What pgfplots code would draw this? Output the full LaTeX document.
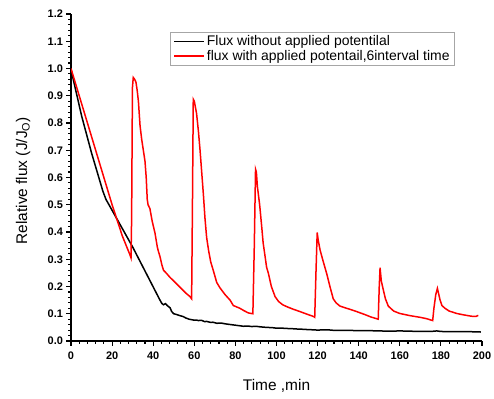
\documentclass[border=0pt]{standalone}
\usepackage{fontspec}
\setmainfont{Liberation Sans}
\usepackage{pgfplots}
\pgfplotsset{compat=1.18}
\begin{document}
\begin{tikzpicture}
\begin{axis}[
  at={(0,0)}, anchor=south west,
  scale only axis, width=411bp, height=327bp,
  xmin=0, xmax=200, ymin=0, ymax=1.2,
  axis x line*=bottom, axis y line*=left,
  xtick={0,20,40,60,80,100,120,140,160,180,200},
  ytick={0,0.1,0.2,0.3,0.4,0.5,0.6,0.7,0.8,0.9,1.0,1.1,1.2},
  minor x tick num=4, minor y tick num=4,
  tick align=outside,
  major tick length=4.5bp, minor tick length=2.5bp,
  axis line style={line width=1.4bp},
  every tick/.style={black, line width=1.1bp},
  /pgf/number format/assume math mode=true,
  tick label style={font=\bfseries\fontsize{11}{13}\selectfont},
  y tick label style={/pgf/number format/.cd, fixed, fixed zerofill, precision=1},
  x tick label style={yshift=-3bp, /pgf/number format/.cd, fixed},
  xlabel={Time ,min},
  ylabel={Relative flux (J/J\textsubscript{O})},
  label style={font=\fontsize{15.5}{18}\selectfont},
  xlabel style={at={(axis description cs:0.5,-0.15)}, anchor=base},
  ylabel style={at={(axis description cs:-0.107,0.49)}, anchor=base},
  legend style={at={(0.241,0.946)}, anchor=north west, draw=gray!70, line width=0.8bp,
     font=\fontsize{14}{16.5}\selectfont, inner xsep=3bp, inner ysep=1.5bp, row sep=-1bp},
  legend cell align=left,
  legend image code/.code={\draw[#1] (0bp,0bp) -- (30bp,0bp);},
]
\addplot[black, line width=1.5bp] coordinates {
(0,0.997) (2,0.93) (5.2,0.825) (10,0.69) (15.5,0.55) (17,0.52) (30,0.345) (43.3,0.15) (44.2,0.138) (45,0.133) (46,0.137) (47,0.129) (48.2,0.122) (49,0.108) (50,0.1) (51.5,0.097) (53,0.093) (54.5,0.09) (56,0.084) (57.5,0.08) (59.5,0.077) (61,0.077) (62,0.075) (63.5,0.076) (65,0.071) (66,0.072) (68,0.068) (69,0.069) (71,0.065) (73,0.066) (75,0.063) (77,0.061) (80,0.058) (82,0.056) (84,0.054) (86,0.055) (88,0.053) (90,0.054) (92,0.052) (95,0.05) (98,0.049) (100,0.047) (103,0.047) (105,0.046) (108,0.045) (110,0.044) (113,0.043) (115,0.042) (118,0.041) (120,0.04) (123,0.041) (125,0.041) (128,0.039) (130,0.039) (135,0.039) (140,0.038) (145,0.038) (150,0.037) (155,0.036) (160,0.037) (165,0.036) (170,0.035) (175,0.035) (178,0.037) (180,0.035) (185,0.034) (190,0.034) (195,0.034) (199.5,0.033)
};
\addlegendentry{Flux without applied potentilal}
\addplot[red, line width=1.5bp] coordinates {
(0,1.0) (8,0.80) (16,0.60) (20,0.5) (25,0.385) (28.7,0.316) (29.2,0.305) (29.5,0.45) (29.9,0.93) (30.3,0.967) (31,0.96) (31.6,0.95) (32.2,0.92) (32.8,0.88) (33.6,0.79) (34.4,0.74) (35.2,0.70) (36,0.66) (36.6,0.60) (37.1,0.52) (37.5,0.50) (38.4,0.486) (39.5,0.44) (40.9,0.395) (42,0.345) (42.5,0.33) (43.3,0.31) (44.2,0.28) (45,0.26) (46.5,0.248) (48,0.235) (50,0.22) (52,0.205) (54,0.19) (56,0.175) (57.9,0.163) (58.7,0.155) (59.1,0.5) (59.5,0.887) (60,0.88) (61.1,0.835) (62,0.77) (62.8,0.70) (63.6,0.62) (64.4,0.54) (65.2,0.45) (66,0.38) (67,0.33) (68,0.29) (69.2,0.26) (70.9,0.215) (72.5,0.195) (75,0.17) (77.4,0.15) (79,0.13) (80,0.127) (82.2,0.12) (84,0.112) (86.3,0.103) (88.5,0.10) (89.2,0.35) (89.8,0.63) (90.2,0.62) (90.7,0.567) (91.8,0.50) (92.8,0.42) (93.5,0.36) (95.2,0.27) (96,0.25) (97.5,0.2) (99.3,0.163) (101,0.145) (103,0.133) (105,0.126) (108,0.117) (111.4,0.108) (115,0.098) (118,0.09) (118.6,0.087) (119.2,0.25) (119.8,0.398) (120.3,0.37) (121.2,0.334) (122.8,0.29) (124.4,0.248) (126,0.2) (127.6,0.155) (129,0.14) (130.9,0.128) (135,0.118) (139,0.108) (143,0.097) (146,0.088) (149.5,0.08) (150,0.2) (150.4,0.269) (151,0.22) (152,0.187) (153,0.155) (154.4,0.128) (157,0.11) (160,0.101) (165,0.093) (169.8,0.087) (173,0.082) (176,0.075) (176.6,0.12) (177.5,0.17) (178.3,0.193) (179,0.17) (179.6,0.15) (180.5,0.13) (182,0.12) (184,0.11) (187.7,0.101) (191,0.096) (194,0.092) (195.8,0.09) (197,0.09) (198.2,0.094)
};
\addlegendentry{flux with applied potentail,6interval time}
\end{axis}
\pgfresetboundingbox
\path[use as bounding box] (-71bp,-58bp) rectangle (423bp,341bp);
\end{tikzpicture}
\end{document}
